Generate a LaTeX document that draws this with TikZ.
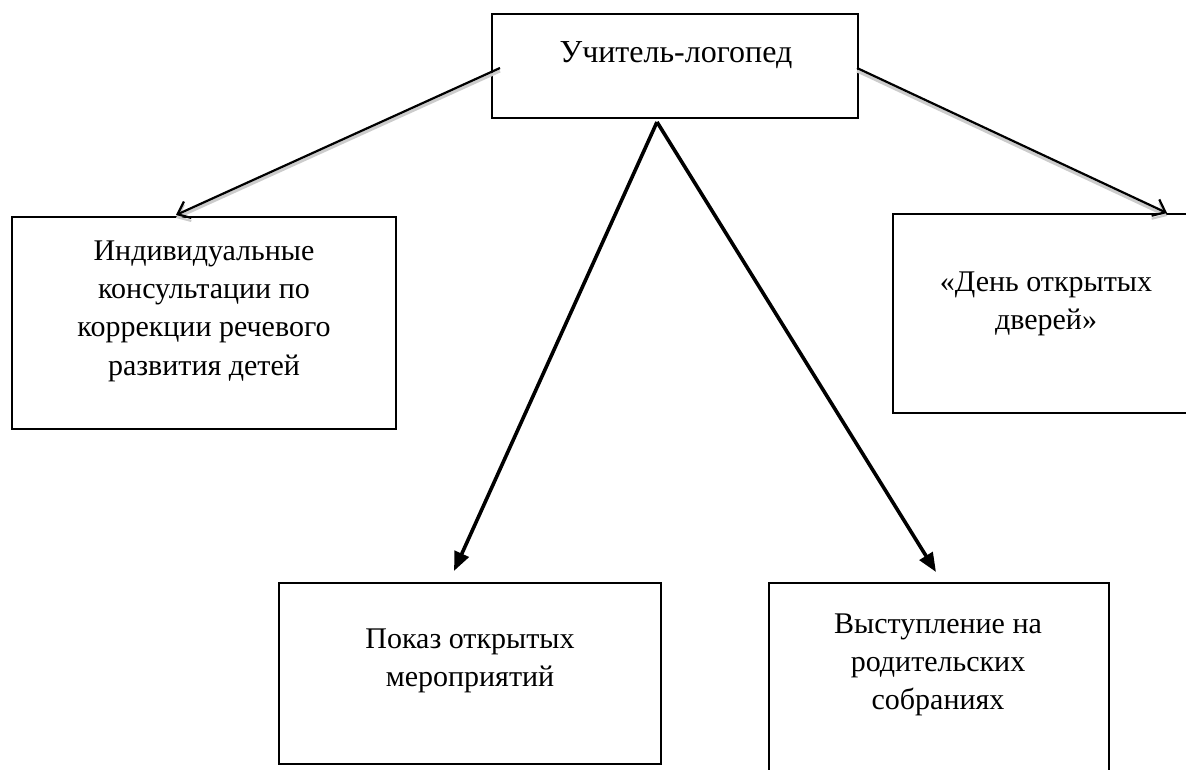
\documentclass[tikz,border=0pt]{standalone}
\usepackage{fontspec}
\setmainfont{Liberation Serif}
\usetikzlibrary{calc}
\usetikzlibrary{arrows.meta}

\begin{document}
\begin{tikzpicture}[x=1pt,y=-1pt,
	box/.style={draw,line width=2.2pt,inner sep=0pt,outer sep=0pt},
	txt/.style={align=center,inner sep=0pt,font=\fontsize{30}{38.3}\selectfont},
	side/.style={line width=2.2pt,-{Straight Barb[length=11pt,width=18pt,line width=2.2pt]},
		preaction={draw=gray!40,line width=3pt,transform canvas={yshift=-3pt}}},
	mid/.style={line width=3.6pt,-{Triangle[length=19pt,width=15pt]}}]
		\useasboundingbox (0,0) rectangle (1186,770);
		\clip (0,0) rectangle (1186,770);

		% top box
		\node[box,line width=1.3pt,minimum width=366pt,minimum height=104pt] (teacher) at (675,66) {};
		\node[txt,font=\fontsize{32}{38}\selectfont] (teacherTxt) at (676,55) {Учитель-логопед};

		% second row
		\node[box,minimum width=384pt,minimum height=212pt] (consult) at (204,323) {};
		\node[txt] (consultTxt) at (204,311) {Индивидуальные\\консультации по\\коррекции речевого\\развития детей};

		\node[box,minimum width=306pt,minimum height=199pt] (openday) at (1046,313.5) {};
		\node[txt] (opendayTxt) at (1046,304) {«День открытых\\дверей»};

		% bottom row
		\node[box,minimum width=382pt,minimum height=181pt] (show) at (470,673.5) {};
		\node[txt] (showTxt) at (470,661) {Показ открытых\\мероприятий};

		\node[box,minimum width=340pt,minimum height=207pt] (speech) at (939,686.5) {};
		\node[txt] (speechTxt) at (938,665) {Выступление на\\родительских\\собраниях};

		% arrows
		\draw[side] ($(teacher.west)+(8,2)$) -- ($(consult.north)+(-28,-2)$);
		\draw[side] ($(teacher.east)+(-1,2)$) -- ($(openday.north)+(121,-1)$);
		\draw[mid] ($(teacher.south)+(-18,4)$) -- ($(show.north)+(-16,-12)$);
		\draw[mid] ($(teacher.south)+(-18,4)$) -- ($(speech.north)+(-3,-11)$);
\end{tikzpicture}
\end{document}
